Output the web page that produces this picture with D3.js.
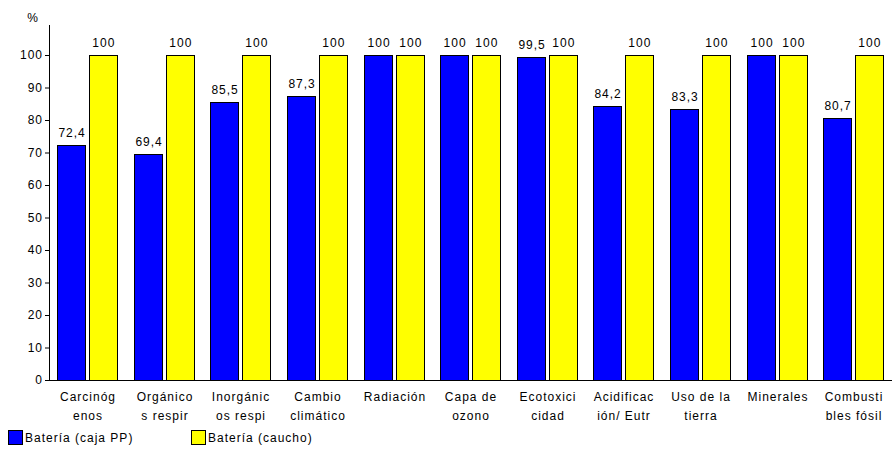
<!DOCTYPE html>
<html>
<head>
<meta charset="utf-8">
<script src="https://cdn.jsdelivr.net/npm/d3@7"></script>
<style>
  html, body { margin: 0; padding: 0; background: #fff; }
  svg text { font-family: "Liberation Sans", Arial, sans-serif; font-size: 12px; letter-spacing: 1px; fill: #000; }
</style>
</head>
<body>
<svg id="chart" width="895" height="450"></svg>
<script>
// Categories (two-line labels) and series values
const categories = [
  ["Carcinóg", "enos"], ["Orgánico", "s respir"], ["Inorgánic", "os respi"],
  ["Cambio", "climático"], ["Radiación", ""], ["Capa de", "ozono"],
  ["Ecotoxici", "cidad"], ["Acidificac", "ión/ Eutr"], ["Uso de la", "tierra"],
  ["Minerales", ""], ["Combusti", "bles fósil"]
];
const seriesNames = ["Batería (caja PP)", "Batería (caucho)"];
const seriesColors = ["#0000ff", "#ffff00"];
const cajaPP = [72.4, 69.4, 85.5, 87.3, 100, 100, 99.5, 84.2, 83.3, 100, 80.7];
const caucho = [100, 100, 100, 100, 100, 100, 100, 100, 100, 100, 100];
const yTicks = [0, 10, 20, 30, 40, 50, 60, 70, 80, 90, 100];

const svg = d3.select("#chart");
const plotLeft = 49, plotRight = 892, plotTop = 55, plotBottom = 380;

// One band per category; two bars inside each band
const x0 = d3.scaleBand().domain(d3.range(categories.length)).range([plotLeft, plotRight]);
const x1 = d3.scaleBand().domain([0, 1]).range([0, 61]).paddingInner(0.08);
const y = d3.scaleLinear().domain([0, 100]).range([plotBottom, plotTop]);

const fmt = v => String(v).replace(".", ",");

// Y axis
const yAxis = svg.append("g").attr("transform", `translate(${plotLeft},0)`)
  .call(d3.axisLeft(y).tickValues(yTicks).tickSize(4).tickPadding(2).tickFormat(d3.format("d")));
yAxis.select(".domain").attr("d", `M0.5,${plotTop - 30}V${plotBottom}`).attr("stroke", "#000");
yAxis.selectAll("text").style("font-size", "12px").attr("fill", "#000");
yAxis.selectAll("line").attr("stroke", "#000");
svg.append("text").attr("x", 33).attr("y", 22).attr("text-anchor", "middle").text("%");

// Bars
const series = [cajaPP, caucho];
const groups = svg.append("g").selectAll("g").data(categories).join("g")
  .attr("transform", (d, i) => `translate(${Math.round(x0(i)) + 8},0)`);

series.forEach((vals, s) => {
  groups.append("rect")
    .attr("x", Math.round(x1(s)) + 0.5)
    .attr("y", (d, i) => Math.round(y(vals[i])) + 0.5)
    .attr("width", Math.round(x1.bandwidth()) - 1)
    .attr("height", (d, i) => plotBottom - Math.round(y(vals[i])))
    .attr("fill", seriesColors[s])
    .attr("stroke", "#000")
    .attr("stroke-width", 1);
  groups.append("text")
    .attr("x", x1(s) + x1.bandwidth() / 2 + 0.5)
    .attr("y", (d, i) => y(vals[i]) - 8)
    .attr("text-anchor", "middle")
    .text((d, i) => fmt(vals[i]));
});

// X baseline
svg.append("line").attr("x1", plotLeft).attr("x2", plotRight)
  .attr("y1", plotBottom + 0.5).attr("y2", plotBottom + 0.5).attr("stroke", "#000");

// Category labels
groups.each(function(d) {
  const g = d3.select(this);
  d.forEach((line, k) => {
    g.append("text").attr("x", 31).attr("y", 401 + k * 19).attr("text-anchor", "middle").text(line);
  });
});

// Legend
const legendX = [8, 191];
seriesNames.forEach((name, s) => {
  svg.append("rect").attr("x", legendX[s] + 0.5).attr("y", 430.5).attr("width", 14).attr("height", 14)
    .attr("fill", seriesColors[s]).attr("stroke", "#000");
  svg.append("text").attr("x", legendX[s] + 17).attr("y", 442).text(name);
});
</script>
</body>
</html>
